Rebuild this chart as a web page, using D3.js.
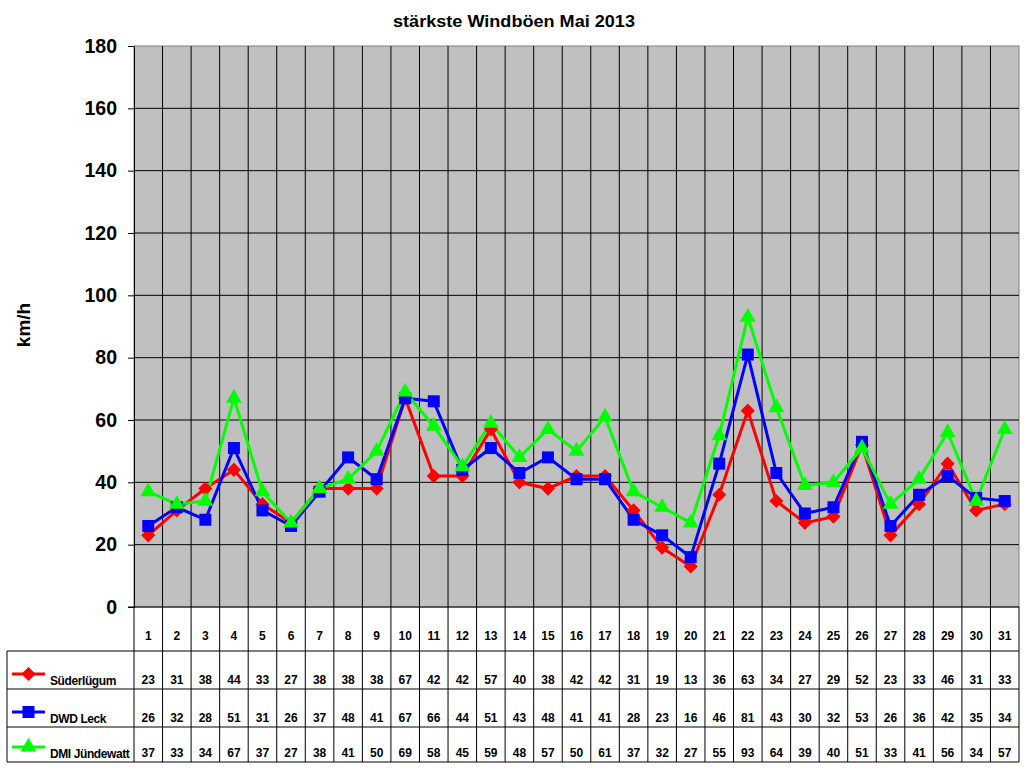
<!DOCTYPE html>
<html>
<head>
<meta charset="utf-8">
<script src="https://cdn.jsdelivr.net/npm/d3@7"></script>
<style>
  body { margin: 0; background: #fff; }
  svg { display: block; font-family: "Liberation Sans", Arial, sans-serif; font-weight: bold; }
</style>
</head>
<body>
<svg id="chart" width="1024" height="768"></svg>
<script>
// days of May 2013
var days = d3.range(1, 32).map(String);
var seriesNames = ['Süderlügum', 'DWD Leck', 'DMI Jündewatt'];
var suederluegum = [23, 31, 38, 44, 33, 27, 38, 38, 38, 67, 42, 42, 57, 40, 38, 42, 42, 31, 19, 13, 36, 63, 34, 27, 29, 52, 23, 33, 46, 31, 33];
var dwdLeck = [26, 32, 28, 51, 31, 26, 37, 48, 41, 67, 66, 44, 51, 43, 48, 41, 41, 28, 23, 16, 46, 81, 43, 30, 32, 53, 26, 36, 42, 35, 34];
var dmiJuendewatt = [37, 33, 34, 67, 37, 27, 38, 41, 50, 69, 58, 45, 59, 48, 57, 50, 61, 37, 32, 27, 55, 93, 64, 39, 40, 51, 33, 41, 56, 34, 57];
var yTicks = [0, 20, 40, 60, 80, 100, 120, 140, 160, 180];

function drawChart() {
    var svg = d3.select('#chart');
    var plotLeft = 134, plotRight = 1019, plotTop = 46, plotBottom = 607;
    var tableLeft = 7;
    var rowLines = [651, 689, 727, 762];

    // diamond as a rotated square
    var diamond = {
        draw: function(context, size) {
            var r = Math.sqrt(size / 2);
            context.moveTo(0, -r);
            context.lineTo(r, 0);
            context.lineTo(0, r);
            context.lineTo(-r, 0);
            context.closePath();
        }
    };

    var series = [
        {name: seriesNames[0], values: suederluegum, color: '#ff0000', symbol: diamond, size: 100},
        {name: seriesNames[1], values: dwdLeck, color: '#0000ff', symbol: d3.symbolSquare, size: 144},
        {name: seriesNames[2], values: dmiJuendewatt, color: '#00ff00', symbol: d3.symbolTriangle, size: 110}
    ];

    var xScale = d3.scaleBand().domain(days).range([plotLeft, plotRight]);
    var yScale = d3.scaleLinear().domain([0, 180]).range([plotBottom, plotTop]);
    var cx = function(i) { return xScale(days[i]) + xScale.bandwidth() / 2; };

    // title
    svg.append('text')
        .attr('x', 514).attr('y', 27)
        .attr('text-anchor', 'middle')
        .attr('textLength', 242)
        .attr('lengthAdjust', 'spacingAndGlyphs')
        .style('font-size', '17px')
        .text('stärkste Windböen Mai 2013');

    // plot area
    svg.append('rect')
        .attr('x', plotLeft).attr('y', plotTop)
        .attr('width', plotRight - plotLeft).attr('height', plotBottom - plotTop)
        .attr('fill', '#c0c0c0')
        .attr('stroke', '#808080');

    // horizontal grid
    svg.append('g').selectAll('line')
        .data(yTicks.filter(function(d) { return d > 0 && d < 180; }))
        .enter().append('line')
        .attr('x1', plotLeft).attr('x2', plotRight)
        .attr('y1', function(d) { return yScale(d); })
        .attr('y2', function(d) { return yScale(d); })
        .attr('stroke', '#000');

    // vertical grid between days, continuing through the table
    svg.append('g').selectAll('line')
        .data(days.slice(1))
        .enter().append('line')
        .attr('x1', function(d) { return xScale(d); })
        .attr('x2', function(d) { return xScale(d); })
        .attr('y1', plotTop).attr('y2', rowLines[3])
        .attr('stroke', '#000');

    // y axis
    var yAxis = svg.append('g')
        .attr('transform', 'translate(' + plotLeft + ',0)')
        .call(d3.axisLeft(yScale).tickValues(yTicks).tickSize(6).tickSizeOuter(0).tickPadding(11));
    yAxis.select('.domain').attr('stroke', '#000');
    yAxis.selectAll('.tick line').attr('stroke', '#000');
    yAxis.selectAll('text')
        .style('font-size', '19.5px')
        .style('font-weight', 'bold')
        .style('font-family', '"Liberation Sans", Arial, sans-serif')
        .attr('fill', '#000');

    svg.append('text')
        .attr('transform', 'translate(30,' + 325 + ') rotate(-90)')
        .attr('text-anchor', 'middle')
        .style('font-size', '19px')
        .text('km/h');

    // x axis line / table frame
    svg.append('line')
        .attr('x1', plotLeft - 6).attr('x2', plotRight)
        .attr('y1', plotBottom).attr('y2', plotBottom)
        .attr('stroke', '#000');
    [plotLeft, plotRight].forEach(function(x) {
        svg.append('line')
            .attr('x1', x).attr('x2', x)
            .attr('y1', plotBottom).attr('y2', rowLines[3])
            .attr('stroke', '#000');
    });
    svg.append('line')
        .attr('x1', tableLeft).attr('x2', tableLeft)
        .attr('y1', rowLines[0]).attr('y2', rowLines[3])
        .attr('stroke', '#000');
    svg.append('g').selectAll('line')
        .data(rowLines)
        .enter().append('line')
        .attr('x1', tableLeft).attr('x2', plotRight)
        .attr('y1', function(d) { return d; }).attr('y2', function(d) { return d; })
        .attr('stroke', '#000');

    // day labels
    svg.append('g').selectAll('text')
        .data(days)
        .enter().append('text')
        .attr('x', function(d, i) { return cx(i); })
        .attr('y', 640)
        .attr('text-anchor', 'middle')
        .style('font-size', '12px')
        .text(function(d) { return d; });

    var line = d3.line()
        .x(function(d, i) { return cx(i); })
        .y(function(d) { return yScale(d); });

    series.forEach(function(s) {
        svg.append('path')
            .datum(s.values)
            .attr('d', line)
            .attr('fill', 'none')
            .attr('stroke', s.color)
            .attr('stroke-width', 3);
    });

    series.forEach(function(s, k) {
        var sym = d3.symbol().type(s.symbol).size(s.size);
        svg.append('g').selectAll('path')
            .data(s.values)
            .enter().append('path')
            .attr('d', sym)
            .attr('transform', function(d, i) {
                return 'translate(' + cx(i) + ',' + yScale(d) + ')';
            })
            .attr('fill', s.color);

        // table row
        var rowBottom = rowLines[k + 1];
        var textY = rowBottom - 5;
        svg.append('g').selectAll('text')
            .data(s.values)
            .enter().append('text')
            .attr('x', function(d, i) { return cx(i); })
            .attr('y', textY)
            .attr('text-anchor', 'middle')
            .style('font-size', '12px')
            .text(function(d) { return d; });

        // legend key
        var ly = rowBottom - 15;
        svg.append('line')
            .attr('x1', 12).attr('x2', 45)
            .attr('y1', ly).attr('y2', ly)
            .attr('stroke', s.color).attr('stroke-width', 3);
        svg.append('path')
            .attr('d', sym)
            .attr('transform', 'translate(28.5,' + ly + ')')
            .attr('fill', s.color);
        svg.append('text')
            .attr('x', 50).attr('y', textY + 1)
            .style('font-size', '12px')
            .style('letter-spacing', '-0.4px')
            .text(s.name);
    });
}

drawChart();
</script>
</body>
</html>
